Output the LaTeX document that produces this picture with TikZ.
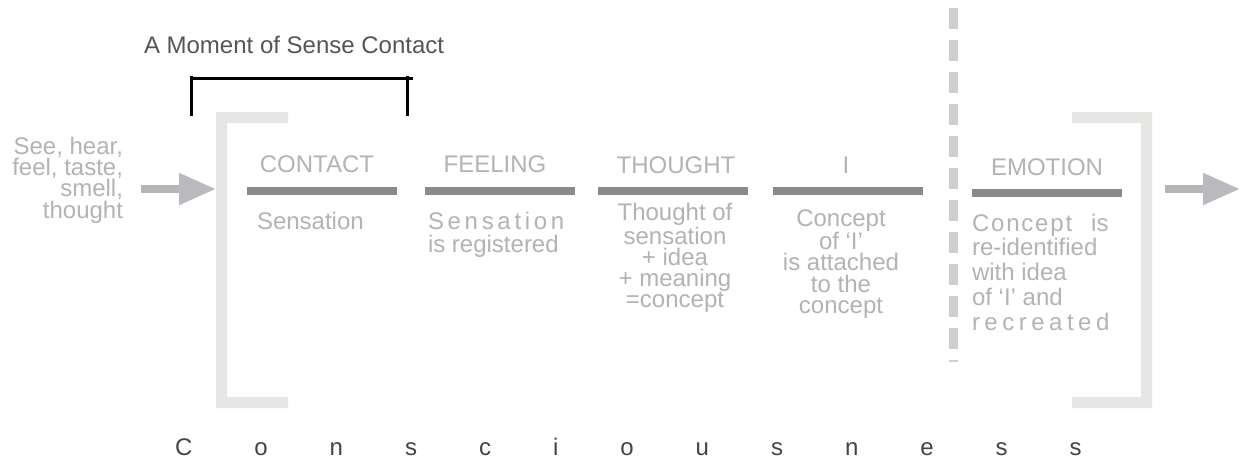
\documentclass[tikz,border=0pt]{standalone}
\usepackage{fontspec}
\setmainfont{Liberation Sans}
\usetikzlibrary{arrows.meta}
\definecolor{txt}{HTML}{B3B3B3}
\definecolor{barc}{HTML}{8A8A8A}
\definecolor{brk}{HTML}{E6E6E5}
\definecolor{dashc}{HTML}{CFCFCF}
\definecolor{shaftc}{HTML}{B5B5B5}
\definecolor{headc}{HTML}{B9BABE}
\definecolor{darkc}{HTML}{555555}
\definecolor{darkerc}{HTML}{444444}
\begin{document}
\begin{tikzpicture}[x=1pt,y=-1pt,
  lbl/.style={inner sep=0pt, outer sep=0pt, text=txt, font=\fontsize{24}{21}\selectfont},
  heading/.style={lbl, anchor=base},
  barbox/.style={fill=barc, draw=none, inner sep=0pt, outer sep=0pt, minimum width=150pt, minimum height=8pt},
  bracketfill/.style={fill=brk, draw=none},
  flowarrow/.style={draw=shaftc, line width=8pt, -{Triangle[length=37pt, width=30pt, color=headc]}},
  blackbracket/.style={draw=black, line width=3pt},
  divider/.style={draw=dashc, line width=9pt, dash pattern=on 21pt off 11pt}
]
\useasboundingbox[fill=white] (0,0) rectangle (1244,464);

% title and black bracket
\node[lbl, text=darkc, anchor=base west] (title) at (144,53) {A Moment of Sense Contact};
\coordinate (bl1) at (191.5,116);
\coordinate (bl2) at (191.5,76);
\coordinate (bh1) at (191.5,78.7);
\coordinate (bh2) at (413,78.7);
\coordinate (br1) at (407.5,76);
\coordinate (br2) at (407.5,116);
\draw[blackbracket] (bl1) -- (bl2);
\draw[blackbracket] (bh1) -- (bh2);
\draw[blackbracket] (br1) -- (br2);

% gray brackets
\fill[bracketfill] (216,112) -- (288,112) -- (288,123) -- (227,123) -- (227,397) -- (288,397) -- (288,408) -- (216,408) -- cycle;
\fill[bracketfill] (1072,112) -- (1152,112) -- (1152,408) -- (1072,408) -- (1072,397) -- (1141,397) -- (1141,123) -- (1072,123) -- cycle;

% dashed divider
\coordinate (dtop) at (953.5,8);
\coordinate (dbot) at (953.5,362);
\draw[divider] (dtop) -- (dbot);

% input text and arrows (base anchor = last line baseline)
\node[lbl, anchor=base east, align=right, font=\fontsize{24}{18.8}\selectfont] (input) at (123,218.4) {See, hear,\\feel, taste,\\smell,\\thought};
\coordinate (a1s) at (141,189);
\coordinate (a1e) at (216,189);
\draw[flowarrow] (a1s) -- (a1e);
\coordinate (a2s) at (1165,189);
\coordinate (a2e) at (1240,189);
\draw[flowarrow] (a2s) -- (a2e);

% headings
\node[heading] (h1) at (317,172.5) {CONTACT};
\node[heading] (h2) at (495,172.5) {FEELING};
\node[heading] (h3) at (676,173) {THOUGHT};
\node[heading] (h4) at (846,173) {I};
\node[heading] (h5) at (1047,175) {EMOTION};

% bars
\node[barbox] (b1) at (322,191) {};
\node[barbox] (b2) at (500,191) {};
\node[barbox] (b3) at (673,190.5) {};
\node[barbox] (b4) at (847.5,190.5) {};
\node[barbox] (b5) at (1047,193) {};

% descriptions (base anchor = last line baseline)
\node[lbl, anchor=base west] (d1) at (257,229) {Sensation};
\node[lbl, anchor=base west, align=left, font=\fontsize{24}{23}\selectfont] (d2) at (428,252)
  {S\kern3.7pt e\kern3.7pt n\kern3.7pt s\kern3.7pt a\kern3.7pt t\kern3.7pt i\kern3.7pt o\kern3.7pt n\\is registered};
\node[lbl, anchor=base, align=center, font=\fontsize{24}{21}\selectfont] (d3) at (675,307)
  {Thought of\\sensation\\+ idea\\+ meaning\\=concept};
\node[lbl, anchor=base, align=center, font=\fontsize{24}{21.1}\selectfont] (d4) at (841,313.1)
  {Concept\\of ‘I’\\is attached\\to the\\concept};
\node[lbl, anchor=base west, align=left, font=\fontsize{24}{24.8}\selectfont] (d5) at (972,330.2)
  {C\kern1.8pt o\kern1.8pt n\kern1.8pt c\kern1.8pt e\kern1.8pt p\kern1.8pt t\kern19pt is\\re-identified\\with idea\\of ‘I’ and\\r\kern4.5pt e\kern4.5pt c\kern4.5pt r\kern4.5pt e\kern4.5pt a\kern4.5pt t\kern4.5pt e\kern4.5pt d};

% consciousness
\node[lbl, text=darkerc, anchor=base west] (cons) at (175,455)
  {C\kern62pt o\kern62pt n\kern62pt s\kern62pt c\kern62pt i\kern62pt o\kern62pt u\kern62pt s\kern62pt n\kern62pt e\kern62pt s\kern62pt s};
\end{tikzpicture}
\end{document}
